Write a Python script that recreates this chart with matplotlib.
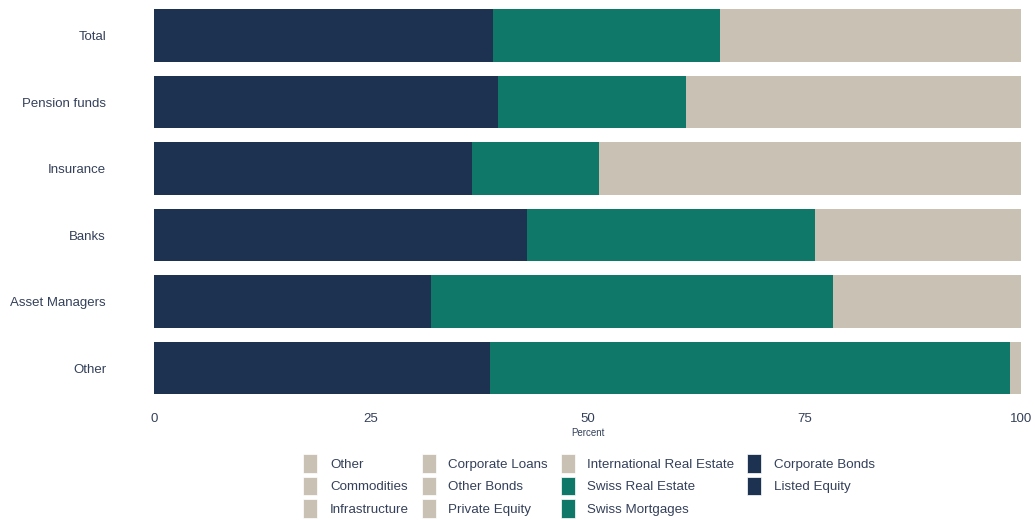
import matplotlib
matplotlib.use("Agg")
import matplotlib.pyplot as plt
from matplotlib.patches import Patch
import numpy as np

plt.rcParams['font.family'] = ['Liberation Sans', 'DejaVu Sans']

categories = ["Total", "Pension funds", "Insurance", "Banks", "Asset Managers", "Other"]

# series in stacking order (left to right)
listed_equity = [24.0, 25.0, 18.0, 14.0, 22.0, 20.0]
corporate_bonds = [15.1, 14.7, 18.7, 29.0, 9.9, 18.8]
swiss_mortgages = [13.0, 8.0, 7.0, 28.0, 6.0, 30.0]
swiss_real_estate = [13.2, 13.7, 7.6, 5.2, 40.4, 29.9]
international_real_estate = [6.0, 7.0, 6.0, 3.0, 4.0, 0.2]
private_equity = [7.0, 8.0, 5.0, 4.0, 5.0, 0.3]
other_bonds = [9.0, 10.0, 20.0, 8.0, 5.0, 0.2]
corporate_loans = [3.0, 2.0, 8.0, 3.0, 2.0, 0.1]
infrastructure = [3.0, 4.0, 4.0, 1.0, 2.0, 0.1]
commodities = [2.0, 3.0, 1.0, 1.0, 1.5, 0.1]
other = [4.7, 4.6, 4.7, 3.8, 2.2, 0.3]

NAVY = "#1d3150"
TEAL = "#0f7868"
BEIGE = "#c9c1b4"
TXT = "#34405a"

series = [
    ("Listed Equity", listed_equity, NAVY),
    ("Corporate Bonds", corporate_bonds, NAVY),
    ("Swiss Mortgages", swiss_mortgages, TEAL),
    ("Swiss Real Estate", swiss_real_estate, TEAL),
    ("International Real Estate", international_real_estate, BEIGE),
    ("Private Equity", private_equity, BEIGE),
    ("Other Bonds", other_bonds, BEIGE),
    ("Corporate Loans", corporate_loans, BEIGE),
    ("Infrastructure", infrastructure, BEIGE),
    ("Commodities", commodities, BEIGE),
    ("Other", other, BEIGE),
]
colors = {name: c for name, _, c in series}

fig = plt.figure(figsize=(10.35, 5.2), dpi=100)
W, H = 1035, 520
x0, x1 = 154, 1021
ytop, ybot = 0, 404
ax = fig.add_axes([x0 / W, 1 - ybot / H, (x1 - x0) / W, (ybot - ytop) / H])

y = np.arange(len(categories))
left = np.zeros(len(categories))
for name, vals, c in series:
    vals = np.array(vals)
    ax.barh(y, vals, left=left, height=0.79, color=c, linewidth=0)
    left += vals

ax.set_xlim(0, 100)
ax.set_ylim(5.54, -0.534)
ax.set_yticks(y)
ax.set_yticklabels(categories)
ax.set_xticks([0, 25, 50, 75, 100])
ax.tick_params(axis='both', length=0, labelsize=9.5, colors=TXT)
ax.tick_params(axis='x', pad=6.5)
ax.tick_params(axis='y', pad=34.5)
for s in ax.spines.values():
    s.set_visible(False)
ax.set_xlabel("Percent", fontsize=7, color=TXT, labelpad=2)

legend_order = ["Other", "Commodities", "Infrastructure",
                "Corporate Loans", "Other Bonds", "Private Equity",
                "International Real Estate", "Swiss Real Estate", "Swiss Mortgages",
                "Corporate Bonds", "Listed Equity"]
handles = [Patch(facecolor=colors[n], edgecolor='white', linewidth=0.5, label=n) for n in legend_order]
leg = fig.legend(handles=handles, ncol=4, loc='center', bbox_to_anchor=(589 / W, 1 - 486 / H),
                 frameon=False, fontsize=9.6, handlelength=1.05, handleheight=1.75,
                 handletextpad=0.95, columnspacing=0.95, labelspacing=0.3, borderpad=0)
for t in leg.get_texts():
    t.set_color(TXT)

fig.savefig("out.png", dpi=100)
